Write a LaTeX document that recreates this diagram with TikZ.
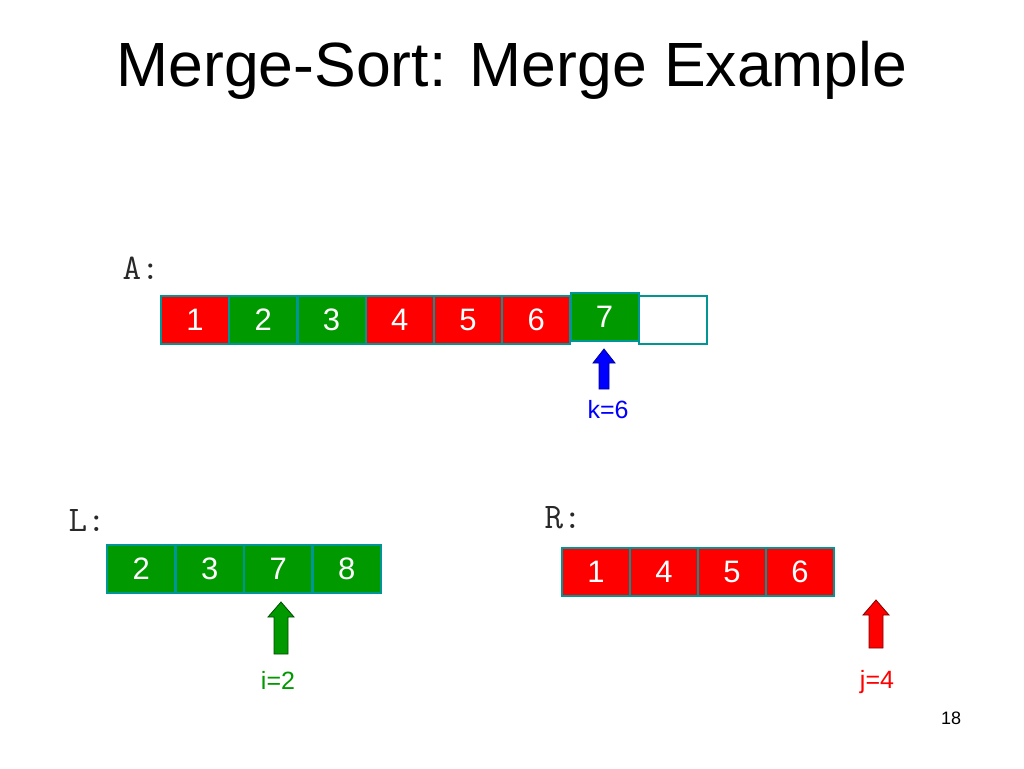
\documentclass[tikz,border=0pt]{standalone}
\usepackage{fontspec}
\setmainfont{Liberation Sans}
\definecolor{cellred}{RGB}{255,0,0}
\definecolor{cellgreen}{RGB}{0,153,0}
\definecolor{cellborder}{RGB}{0,150,150}
\definecolor{kblue}{RGB}{0,0,255}
\definecolor{labelgray}{RGB}{40,40,40}
\begin{document}
\begin{tikzpicture}[x=1pt,y=-1pt,
  cell/.style={draw=cellborder, line width=2pt, minimum width=68pt, minimum height=48pt, inner sep=0pt, text=white, font=\fontsize{31}{36}\selectfont},
  redcell/.style={cell, fill=cellred},
  greencell/.style={cell, fill=cellgreen},
  emptycell/.style={cell, fill=white},
  arrlabel/.style={font=\fontsize{25}{30}\selectfont},
  arrname/.style={font=\ttfamily\fontsize{36}{40}\selectfont, anchor=base west, text=labelgray}]
\useasboundingbox (0,0) rectangle (1024,768);
\fill[white] (0,0) rectangle (1024,768);
\node[font=\fontsize{62.5}{72}\selectfont] (title) at (512,70) {Merge-Sort: Merge Example};
% A
\node[arrname] (Alab) at (119,279) {A:};
\node[redcell] (a1) at (195.1,319.5) {1};
\node[greencell] (a2) at (263.3,319.5) {2};
\node[greencell] (a3) at (331.5,319.5) {3};
\node[redcell] (a4) at (399.8,319.5) {4};
\node[redcell] (a5) at (468,319.5) {5};
\node[redcell] (a6) at (536.3,319.5) {6};
\node[emptycell] (a8) at (672.8,319.5) {};
\node[greencell] (a7) at (604.5,317) {7};
\coordinate (ka) at (604,349);
\draw[fill=kblue, draw=blue!60!black, line width=0.8pt] (ka) -- ++(11,14) -- ++(-6,0) -- ++(0,26) -- ++(-10,0) -- ++(0,-26) -- ++(-6,0) -- cycle;
\node[arrlabel, text=kblue] (klab) at (608,410) {k=6};
% L
\node[arrname] (Llab) at (65,531) {L:};
\node[greencell] (l1) at (141.2,568.5) {2};
\node[greencell] (l2) at (209.7,568.5) {3};
\node[greencell] (l3) at (278.2,568.5) {7};
\node[greencell] (l4) at (346.7,568.5) {8};
\coordinate (ia) at (281,602);
\draw[fill=cellgreen, draw=green!30!black, line width=0.8pt] (ia) -- ++(13,15) -- ++(-6,0) -- ++(0,37) -- ++(-14,0) -- ++(0,-37) -- ++(-6,0) -- cycle;
\node[arrlabel, text=cellgreen] (ilab) at (278,680) {i=2};
% R
\node[arrname] (Rlab) at (541,528) {R:};
\node[redcell] (r1) at (596,572) {1};
\node[redcell] (r2) at (664,572) {4};
\node[redcell] (r3) at (732,572) {5};
\node[redcell] (r4) at (800,572) {6};
\coordinate (ja) at (876,600);
\draw[fill=cellred, draw=red!50!black, line width=0.8pt] (ja) -- ++(13,15) -- ++(-6,0) -- ++(0,33) -- ++(-14,0) -- ++(0,-33) -- ++(-6,0) -- cycle;
\node[arrlabel, text=cellred] (jlab) at (877,682) {j=4};
\node[font=\fontsize{18}{21}\selectfont] (pg) at (951,718) {18};
\end{tikzpicture}
\end{document}
